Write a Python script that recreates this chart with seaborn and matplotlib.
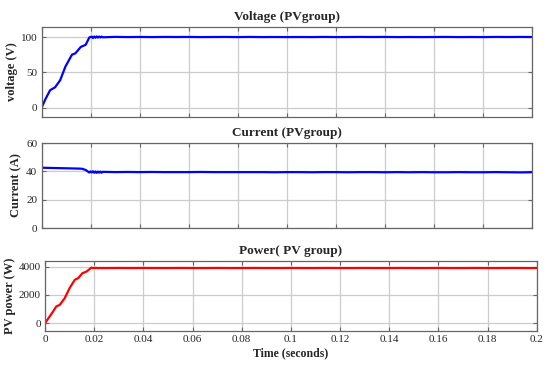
#Import libraries
import pandas as pd
import matplotlib.pyplot as plt
import seaborn as sns

#Data (time in seconds)
t_rise = [0.0, 0.0014, 0.0035, 0.0055, 0.0076, 0.0097, 0.0124, 0.0138, 0.016, 0.018, 0.0195, 0.0205]
v_rise = [0, 11, 25, 29, 39, 58, 75, 77, 86, 89, 99.5, 100.5]

t_cur = [0.0, 0.005, 0.010, 0.015, 0.0165, 0.018, 0.019, 0.0195, 0.020, 0.0205]
i_cur = [42.6, 42.4, 42.2, 42.0, 41.9, 41.0, 39.8, 39.2, 40.0, 39.3]

t_pow = [0.0, 0.0005, 0.0019, 0.0033, 0.0046, 0.006, 0.008, 0.010, 0.0121, 0.0135, 0.0152, 0.0169, 0.0189, 0.0195]
p_pow = [0, 120, 470, 820, 1180, 1290, 1760, 2470, 3060, 3180, 3530, 3650, 3930, 3900]

#Steady state after the transient
t_ss = [0.021, 0.0215, 0.022, 0.0225, 0.023, 0.0235, 0.024, 0.0245, 0.025,
        0.03, 0.035, 0.04, 0.045, 0.05, 0.055, 0.06, 0.065, 0.07, 0.075, 0.08,
        0.085, 0.09, 0.095, 0.1, 0.105, 0.11, 0.115, 0.12, 0.125, 0.13, 0.135,
        0.14, 0.145, 0.15, 0.155, 0.16, 0.165, 0.17, 0.175, 0.18, 0.185, 0.19,
        0.195, 0.2]
v_ss = [98.5, 100.8, 99.0, 100.8, 99.2, 100.7, 99.3, 100.6, 99.6,
        100.2, 99.9, 100.1, 99.9, 100.1, 100.0, 100.1, 99.9, 100.0, 100.1, 99.9,
        100.1, 99.9, 100.0, 99.9, 100.0, 99.9, 100.1, 99.9, 100.0, 100.1, 100.0,
        100.1, 99.9, 100.0, 99.9, 100.0, 100.1, 99.9, 100.0, 99.9, 100.1, 100.0,
        100.1, 100.0]
i_ss = [40.1, 39.0, 40.0, 39.0, 39.9, 39.1, 39.9, 39.1, 39.7,
        39.5, 39.6, 39.5, 39.6, 39.5, 39.5, 39.5, 39.6, 39.5, 39.5, 39.5,
        39.5, 39.5, 39.4, 39.5, 39.5, 39.4, 39.5, 39.5, 39.4, 39.5, 39.5,
        39.4, 39.5, 39.4, 39.5, 39.4, 39.4, 39.5, 39.4, 39.4, 39.5, 39.4,
        39.3, 39.4]
p_ss = [3910, 3890, 3905, 3895, 3905, 3895, 3905, 3895, 3900,
        3905, 3900, 3905, 3900, 3900, 3905, 3900, 3900, 3905, 3900, 3900,
        3905, 3900, 3900, 3905, 3900, 3900, 3905, 3900, 3900, 3905, 3900,
        3900, 3905, 3900, 3900, 3905, 3900, 3900, 3905, 3900, 3900, 3905,
        3900, 3900]

#Build dataframes
df_v = pd.DataFrame({"t": t_rise + t_ss, "y": v_rise + v_ss})
df_i = pd.DataFrame({"t": t_cur + t_ss, "y": i_cur + i_ss})
df_p = pd.DataFrame({"t": t_pow + t_ss, "y": p_pow + p_ss})

sns.set_style("whitegrid")
plt.rcParams['font.family'] = ['Liberation Serif', 'DejaVu Serif']

fig = plt.figure(figsize=(5.5, 3.66), dpi=100)
ax1 = fig.add_axes([0.0755, 0.680, 0.892, 0.246])
ax2 = fig.add_axes([0.0755, 0.377, 0.892, 0.232])
ax3 = fig.add_axes([0.0818, 0.096, 0.894, 0.191])

panels = [
    (ax1, df_v, "#0000ff", "Voltage (PVgroup)", "voltage (V)", (-13, 114), [0, 50, 100], -0.048),
    (ax2, df_i, "#0000ff", "Current (PVgroup)", "Current (A)", (0, 60), [0, 20, 40, 60], -0.040),
    (ax3, df_p, "#ff0000", "Power( PV group)", "PV power (W)", (-550, 4400), [0, 2000, 4000], -0.059),
]

for ax, df, col, title, ylab, ylim, yt, lx in panels:
    sns.lineplot(data=df, x="t", y="y", ax=ax, color=col, linewidth=1.6,
                 estimator=None, sort=False)
    ax.set_xlim(0, 0.2)
    ax.set_ylim(*ylim)
    ax.set_yticks(yt)
    ax.set_xticks([0, 0.02, 0.04, 0.06, 0.08, 0.1, 0.12, 0.14, 0.16, 0.18, 0.2])
    ax.set_title(title, fontsize=9.5, fontweight="bold", pad=5)
    ax.set_ylabel(ylab, fontsize=9, fontweight="bold")
    ax.yaxis.set_label_coords(lx, 0.5)
    ax.set_xlabel("")
    ax.grid(True, color="#cccccc", linewidth=0.9)
    for s in ax.spines.values():
        s.set_color("#666666")
        s.set_linewidth(0.9)
    ax.tick_params(direction="in", length=3, width=0.8, color="#666666",
                   labelsize=8, top=True, right=True, bottom=True, left=True, pad=3)

ax1.set_xticklabels([])
ax2.set_xticklabels([])
ax3.set_xticklabels(["0", "0.02", "0.04", "0.06", "0.08", "0.1", "0.12", "0.14", "0.16", "0.18", "0.2"])
ax3.set_xlabel("Time (seconds)", fontsize=8.5, fontweight="bold", labelpad=2)

plt.savefig("out.png", dpi=100)
print("File Saved")
